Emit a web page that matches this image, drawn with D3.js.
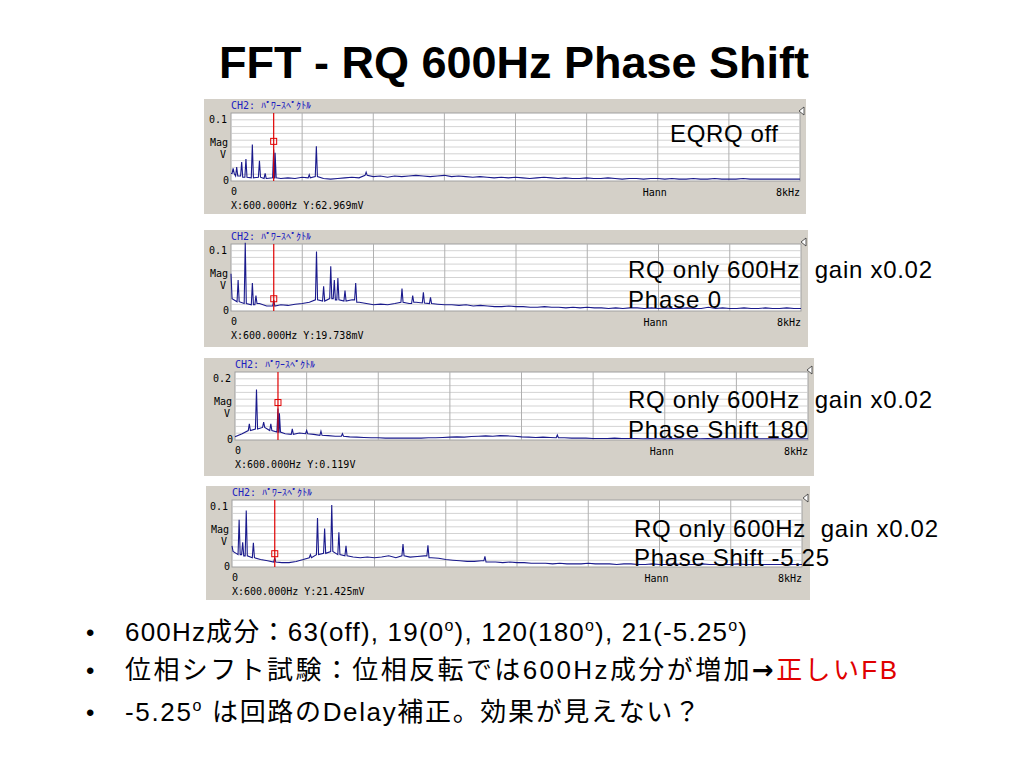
<!DOCTYPE html>
<html><head><meta charset="utf-8">
<script src="https://cdnjs.cloudflare.com/ajax/libs/d3/7.8.5/d3.min.js"></script>
<style>body{margin:0;background:#fff}svg{display:block}</style>
</head><body><svg id="c" width="1024" height="768"></svg>
<script>
// noise floor, mV per 100Hz bin, 0..8kHz
const floorOff = [12,8,6,5,6,4,5,4,5,4,6,5,7,4,3,4,5,6,5,9,7,8,6,8,7,8,9,8,7,8,9,7,8,7,6,7,6,5,6,5,6,5,4,5,6,5,4,5,4,4,5,4,4,5,4,3,4,4,3,4,4,3,4,3,3,4,3,3,4,3,3,3,4,3,3,3,3,3,3,3,3];
const floorPh0 = [20,15,12,10,12,8,8,10,9,11,12,14,18,16,20,18,16,18,14,12,10,11,10,12,14,12,14,13,12,11,10,10,9,10,8,9,8,7,7,8,7,7,6,6,7,6,6,5,6,5,6,5,5,4,5,4,5,5,4,5,4,5,4,4,5,4,4,6,4,5,4,4,5,4,4,5,4,4,5,4,4];
const floorPh180 = [10,20,30,35,40,30,25,20,18,22,20,18,15,14,12,12,10,9,8,7,7,6,6,6,6,6,6,7,7,8,9,10,9,11,12,13,12,14,13,12,10,9,8,9,8,7,7,6,6,6,5,5,5,6,5,5,5,4,5,4,4,5,4,4,4,4,5,4,4,4,4,4,4,4,4,4,4,4,4,4,4];
const floorPhM525 = [25,20,18,15,12,10,8,7,7,9,12,15,20,22,25,20,18,16,15,16,15,16,18,15,18,16,17,18,15,14,12,11,10,9,9,10,8,8,7,8,7,7,6,6,6,5,6,5,5,5,6,5,5,5,4,5,5,4,4,5,4,4,5,4,4,4,5,4,4,4,4,5,4,4,4,4,4,4,4,4,4];
// spectral lines [Hz, mV]
const peaksOff = [[30,20],[80,22],[150,30],[210,35],[300,58],[400,32],[480,12],[600,50],[620,45],[1100,10],[1200,55],[1900,14]];
const peaksPh0 = [[0,60],[100,50],[200,110],[300,45],[350,25],[600,18],[1200,96],[1300,40],[1400,72],[1450,50],[1500,53],[1600,33],[1750,45],[2400,36],[2550,25],[2700,30],[2800,22]];
const peaksPh180 = [[200,51],[300,160],[400,57],[500,51],[600,100],[620,85],[800,35],[1000,30],[1200,28],[1500,20],[4500,16]];
const peaksPhM525 = [[0,34],[100,76],[150,40],[200,91],[300,39],[600,15],[1100,20],[1200,79],[1300,62],[1400,100],[1500,56],[1600,34],[2400,37],[2750,35],[3550,17]];
const floors = [floorOff, floorPh0, floorPh180, floorPhM525];
const peaks = [peaksOff, peaksPh0, peaksPh180, peaksPhM525];
const fullScale = [100, 100, 200, 100];          // mV
const scaleLabels = ["0.1", "0.1", "0.2", "0.1"];
const cursorVals = [62.969, 19.738, 119, 21.425]; // mV at 600Hz
const cursorTexts = ["X:600.000Hz Y:62.969mV", "X:600.000Hz Y:19.738mV", "X:600.000Hz Y:0.119V", "X:600.000Hz Y:21.425mV"];
const notes = [["EQRQ off"], ["RQ only 600Hz  gain x0.02", "Phase 0"], ["RQ only 600Hz  gain x0.02", "Phase Shift 180"], ["RQ only 600Hz  gain x0.02", "Phase Shift -5.25"]];
const cursorHz = 600, binHz = 100;

// panel layout
const boxes = [
  {x:204, y:99, w:602, h:115, px:231, pr:800, pt:113, pb:181, nx:670, ny:[142], nw:[108]},
  {x:204, y:230, w:604, h:117, px:231, pr:801, pt:244, pb:311, nx:628, ny:[278, 308], nw:[304, 93]},
  {x:204, y:358, w:610, h:118, px:235, pr:808, pt:372, pb:440, nx:628, ny:[408, 438], nw:[304, 180]},
  {x:206, y:486, w:604, h:114, px:232, pr:802, pt:500, pb:567, nx:634, ny:[537, 566], nw:[304, 195]}
];

const svg = d3.select("#c");
svg.append("text").attr("x", 514).attr("y", 78).attr("text-anchor", "middle")
  .style("font", "bold 45px 'Liberation Sans', Arial, sans-serif").text("FFT - RQ 600Hz Phase Shift");

const mono = "10px 'DejaVu Sans Mono', 'Liberation Mono', monospace";

function spectrum(fl, pk) {
  const near = f => fl[Math.min(fl.length - 1, Math.round(f / binHz))];
  const pts = fl.map((v, k) => [k * binHz, v]).filter(p => !pk.some(q => Math.abs(q[0] - p[0]) < 20));
  pk.forEach(([f, v]) => {
    pts.push([f, v]);
    if (f > 15) pts.push([f - 15, near(f - 15)]);
    pts.push([f + 15, near(f + 15)]);
  });
  return pts.sort((a, b) => a[0] - b[0]);
}

boxes.forEach((b, i) => {
  const g = svg.append("g");
  g.append("rect").attr("x", b.x).attr("y", b.y).attr("width", b.w).attr("height", b.h).attr("fill", "#d4d0c8");
  const x = d3.scaleLinear().domain([0, 8000]).range([b.px, b.pr]);
  const y = d3.scaleLinear().domain([0, fullScale[i] * 1.08]).range([b.pb, b.pt]);
  g.append("rect").attr("x", b.px).attr("y", b.pt).attr("width", b.pr - b.px).attr("height", b.pb - b.pt)
    .attr("fill", "#fff").attr("stroke", "#a0a0a0");
  g.selectAll(".hg").data(d3.range(1, 10)).join("line")
    .attr("x1", b.px).attr("x2", b.pr)
    .attr("y1", d => b.pt + (b.pb - b.pt) * d / 10).attr("y2", d => b.pt + (b.pb - b.pt) * d / 10)
    .attr("stroke", "#c8c8c8").attr("stroke-width", 0.8);
  g.selectAll(".vg").data(d3.range(1000, 8000, 1000)).join("line")
    .attr("x1", d => x(d)).attr("x2", d => x(d)).attr("y1", b.pt).attr("y2", b.pb)
    .attr("stroke", "#b0b0b0").attr("stroke-width", 1);
  g.append("path").datum(spectrum(floors[i], peaks[i]))
    .attr("d", d3.line().x(d => x(d[0])).y(d => y(d[1])))
    .attr("fill", "none").attr("stroke", "#1a1a8c").attr("stroke-width", 1.1);
  g.append("line").attr("x1", x(cursorHz)).attr("x2", x(cursorHz)).attr("y1", b.pt).attr("y2", b.pb)
    .attr("stroke", "#e00000").attr("stroke-width", 1.2);
  g.append("rect").attr("x", x(cursorHz) - 3).attr("y", y(cursorVals[i]) - 3).attr("width", 6).attr("height", 6)
    .attr("fill", "none").attr("stroke", "#e00000");
  g.append("path").attr("d", `M${b.x + b.w - 2},${b.pt - 6}l-5,4l5,4z`).attr("fill", "#fff").attr("stroke", "#333").attr("stroke-width", 0.8);
  const t = (tx, ty, s, col, anchor) => g.append("text").attr("x", tx).attr("y", ty).attr("fill", col || "#000")
    .attr("text-anchor", anchor || "start").style("font", mono).text(s);
  t(b.px, b.y + 10, "CH2: ﾊﾟﾜｰｽﾍﾟｸﾄﾙ", "#2020c0");
  t(b.px - 4, b.pt + 10, scaleLabels[i], "#000", "end");
  t(b.px - 3, b.pt + 33, "Mag", "#000", "end");
  t(b.px - 5, b.pt + 45, "V", "#000", "end");
  t(b.px - 2, b.pb + 3, "0", "#000", "end");
  t(b.px, b.pb + 14, "0");
  t(x(6000) - 15, b.pb + 15, "Hann");
  t(b.pr, b.pb + 15, "8kHz", "#000", "end");
  t(b.px, b.pb + 28, cursorTexts[i]);
  notes[i].forEach((s, k) => {
    svg.append("text").attr("x", b.nx).attr("y", b.ny[k]).style("white-space", "pre")
      .attr("textLength", b.nw[k]).attr("lengthAdjust", "spacing")
      .style("font", "24px 'Liberation Sans', Arial, sans-serif").text(s);
  });
});

// bullets
const jp = "'Liberation Sans', 'Noto Sans CJK JP', sans-serif";
const bullets = [
  [["600Hz成分：63(off), 19(0"], ["o", "sup"], ["), 120(180"], ["o", "sup"], ["), 21(-5.25"], ["o", "sup"], [")"]],
  [["位相シフト試験：位相反転では600Hz成分が増加"], ["→", "arrow"], ["正しいFB", "red"]],
  [["-5.25"], ["o", "sup"], [" は回路のDelay補正。効果が見えない？"]]
];
const by = [641, 679, 721];
const bw = [622, 772, 575];
bullets.forEach((parts, i) => {
  svg.append("text").attr("x", 86).attr("y", by[i]).style("font", "24px " + jp).text("•");
  const tx = svg.append("text").attr("x", 125).attr("y", by[i]).style("font", "26px " + jp)
    .style("white-space", "pre").attr("textLength", bw[i]).attr("lengthAdjust", "spacing");
  parts.forEach(([s, kind], k) => {
    const sp = tx.append("tspan").text(s);
    const prevSup = k > 0 && parts[k - 1][1] === "sup";
    if (kind === "sup") sp.attr("dy", -10).style("font-size", "16px");
    else if (prevSup) sp.attr("dy", 10);
    if (kind === "arrow") sp.style("font", "bold 26px 'DejaVu Sans', sans-serif");
    if (kind === "red") sp.attr("fill", "#e00000");
  });
});
</script></body></html>
